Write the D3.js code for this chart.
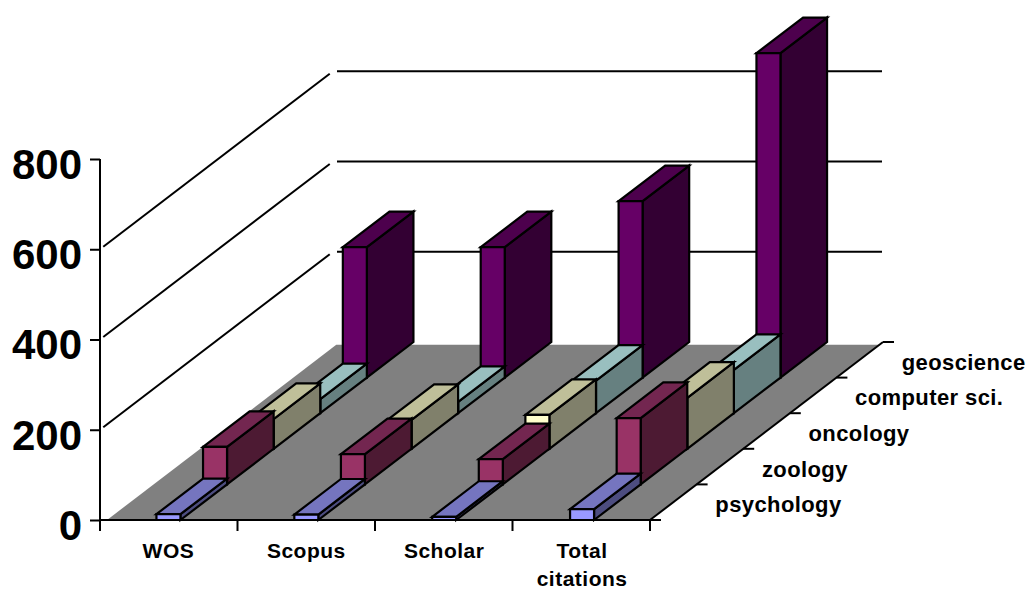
<!DOCTYPE html>
<html>
<head>
<meta charset="utf-8">
<script src="https://cdn.jsdelivr.net/npm/d3@7"></script>
<style>
html,body{margin:0;padding:0;background:#fff;}
svg{display:block;}
text{font-family:"Liberation Sans",Arial,sans-serif;font-weight:bold;fill:#000;}
</style>
</head>
<body>
<div id="chart"></div>
<script>
const categories = ["WOS", "Scopus", "Scholar", "Total citations"];
const seriesNames = ["psychology", "zoology", "oncology", "computer sci.", "geoscience"];
const psychology = [13, 12, 7, 24];
const zoology = [83, 67, 56, 147];
const oncology = [66, 64, 75, 113];
const computerSci = [31, 25, 72, 96];
const geoscience = [289, 289, 391, 719];
const seriesValues = [psychology, zoology, oncology, computerSci, geoscience];
const yTicks = [0, 200, 400, 600, 800];
const wallTicks = [200, 400, 600];
const faceColors = [
  {front: "#9999ff", top: "#7575bf", side: "#4d4d80"},
  {front: "#993366", top: "#732650", side: "#4d1a33"},
  {front: "#ffffcc", top: "#bfbf99", side: "#80806b"},
  {front: "#ccffff", top: "#99bfbf", side: "#668080"},
  {front: "#660066", top: "#4d004d", side: "#330033"}
];

const width = 1029, height = 591;
const svg = d3.select("#chart").append("svg").attr("width", width).attr("height", height);

const axisLeftX = 100, axisRightX = 650;
const x = d3.scaleBand().domain(categories).range([99.5, 651]);
const y = d3.scaleLinear().domain([0, 800]).range([520, 159]);
const barWidth = 24;
// Oblique projection: each depth slot shifts a point up and to the right.
const depthX = d3.scaleLinear().domain([0, 5]).range([0, 233]);
const depthY = d3.scaleLinear().domain([0, 5]).range([0, -178]);
const project = (px, value, z) => [px + depthX(z), y(value) + depthY(z)];
const line = d3.line();
const stroke = "#000", sw = 2;

// Floor
svg.append("path")
  .attr("d", line([[107, 520], project(107, 0, 4.92), project(axisRightX, 0, 4.92), [axisRightX, 520]]) + "Z")
  .attr("fill", "#808080");

// Wall gridlines: diagonal on the left side, horizontal along the back
const wall = svg.append("g").attr("fill", "none").attr("stroke", stroke).attr("stroke-width", sw);
wall.selectAll("path.diag").data(wallTicks).join("path").attr("class", "diag")
  .attr("d", v => line([project(axisLeftX, v, 0.07), project(axisLeftX, v, 4.93)]));
wall.selectAll("path.back").data(wallTicks).join("path").attr("class", "back")
  .attr("d", v => line([project(104, v, 5), project(649, v, 5)]));

// Bars, painted from the back row to the front row
const bars = svg.append("g").attr("stroke", stroke).attr("stroke-width", 2.2).attr("stroke-linejoin", "miter");
d3.range(seriesValues.length - 1, -1, -1).forEach(s => {
  categories.forEach((c, i) => {
    const v = seriesValues[s][i];
    const x0 = x(c) + (x.bandwidth() - barWidth) / 2, x1 = x0 + barWidth;
    const colors = faceColors[s];
    const g = bars.append("g");
    g.append("path").attr("fill", colors.side)
      .attr("d", line([project(x1, 0, s), project(x1, 0, s + 1), project(x1, v, s + 1), project(x1, v, s)]) + "Z");
    g.append("path").attr("fill", colors.top)
      .attr("d", line([project(x0, v, s), project(x0, v, s + 1), project(x1, v, s + 1), project(x1, v, s)]) + "Z");
    g.append("path").attr("fill", colors.front)
      .attr("d", line([project(x0, 0, s), project(x0, v, s), project(x1, v, s), project(x1, 0, s)]) + "Z");
  });
});

// Value axis
const yAxis = d3.axisLeft(y).tickValues(yTicks).tickSize(10).tickPadding(8).tickFormat(d3.format("d"));
const yG = svg.append("g").attr("transform", `translate(${axisLeftX},0)`).call(yAxis);
yG.select(".domain").attr("stroke", stroke).attr("stroke-width", sw).attr("d", line([[0, y(800)], [0, 531]]));
yG.selectAll(".tick line").attr("stroke", stroke).attr("stroke-width", sw);
yG.selectAll(".tick text")
  .attr("font-size", 42).attr("font-family", '"Liberation Sans",Arial,sans-serif')
  .attr("font-weight", "bold").attr("fill", "#000").attr("dy", "0.46em");

// Category axis
const boundaries = d3.range(categories.length + 1)
  .map(i => axisLeftX + i * (axisRightX - axisLeftX) / categories.length);
const xG = svg.append("g").attr("stroke", stroke).attr("stroke-width", sw);
xG.append("path").attr("d", line([[axisLeftX, 520], [axisRightX, 520]]));
xG.selectAll("path.tick").data(boundaries).join("path").attr("class", "tick")
  .attr("d", b => line([[b, 520], [b, 531]]));
const catLines = categories.map(c => c === "Total citations" ? ["Total", "citations"] : [c]);
svg.selectAll("text.cat").data(categories).join("text").attr("class", "cat")
  .attr("text-anchor", "middle").attr("font-size", 21).attr("letter-spacing", 0.5)
  .attr("transform", c => `translate(${x(c) + x.bandwidth() / 2},558)`)
  .selectAll("tspan").data((c, i) => catLines[i]).join("tspan")
  .attr("x", 0).attr("dy", (d, i) => i ? 28 : 0).text(d => d);

// Depth axis along the right edge of the floor
const depth = svg.append("g").attr("stroke", stroke).attr("stroke-width", sw);
depth.append("path").attr("d", line([project(axisRightX, 0, 0), project(axisRightX, 0, 5)]));
depth.selectAll("path.tick").data(d3.range(6)).join("path").attr("class", "tick")
  .attr("d", z => {
    const p = project(axisRightX, 0, z);
    return line([p, [p[0] + 11, p[1]]]);
  });
svg.selectAll("text.series").data(seriesNames).join("text").attr("class", "series")
  .attr("font-size", 22).attr("letter-spacing", 0.4).attr("text-anchor", "start")
  .attr("x", (d, i) => project(axisRightX, 0, i + 0.5)[0] + 42)
  .attr("y", (d, i) => project(axisRightX, 0, i + 0.5)[1] + 10)
  .text(d => d);
</script>
</body>
</html>
